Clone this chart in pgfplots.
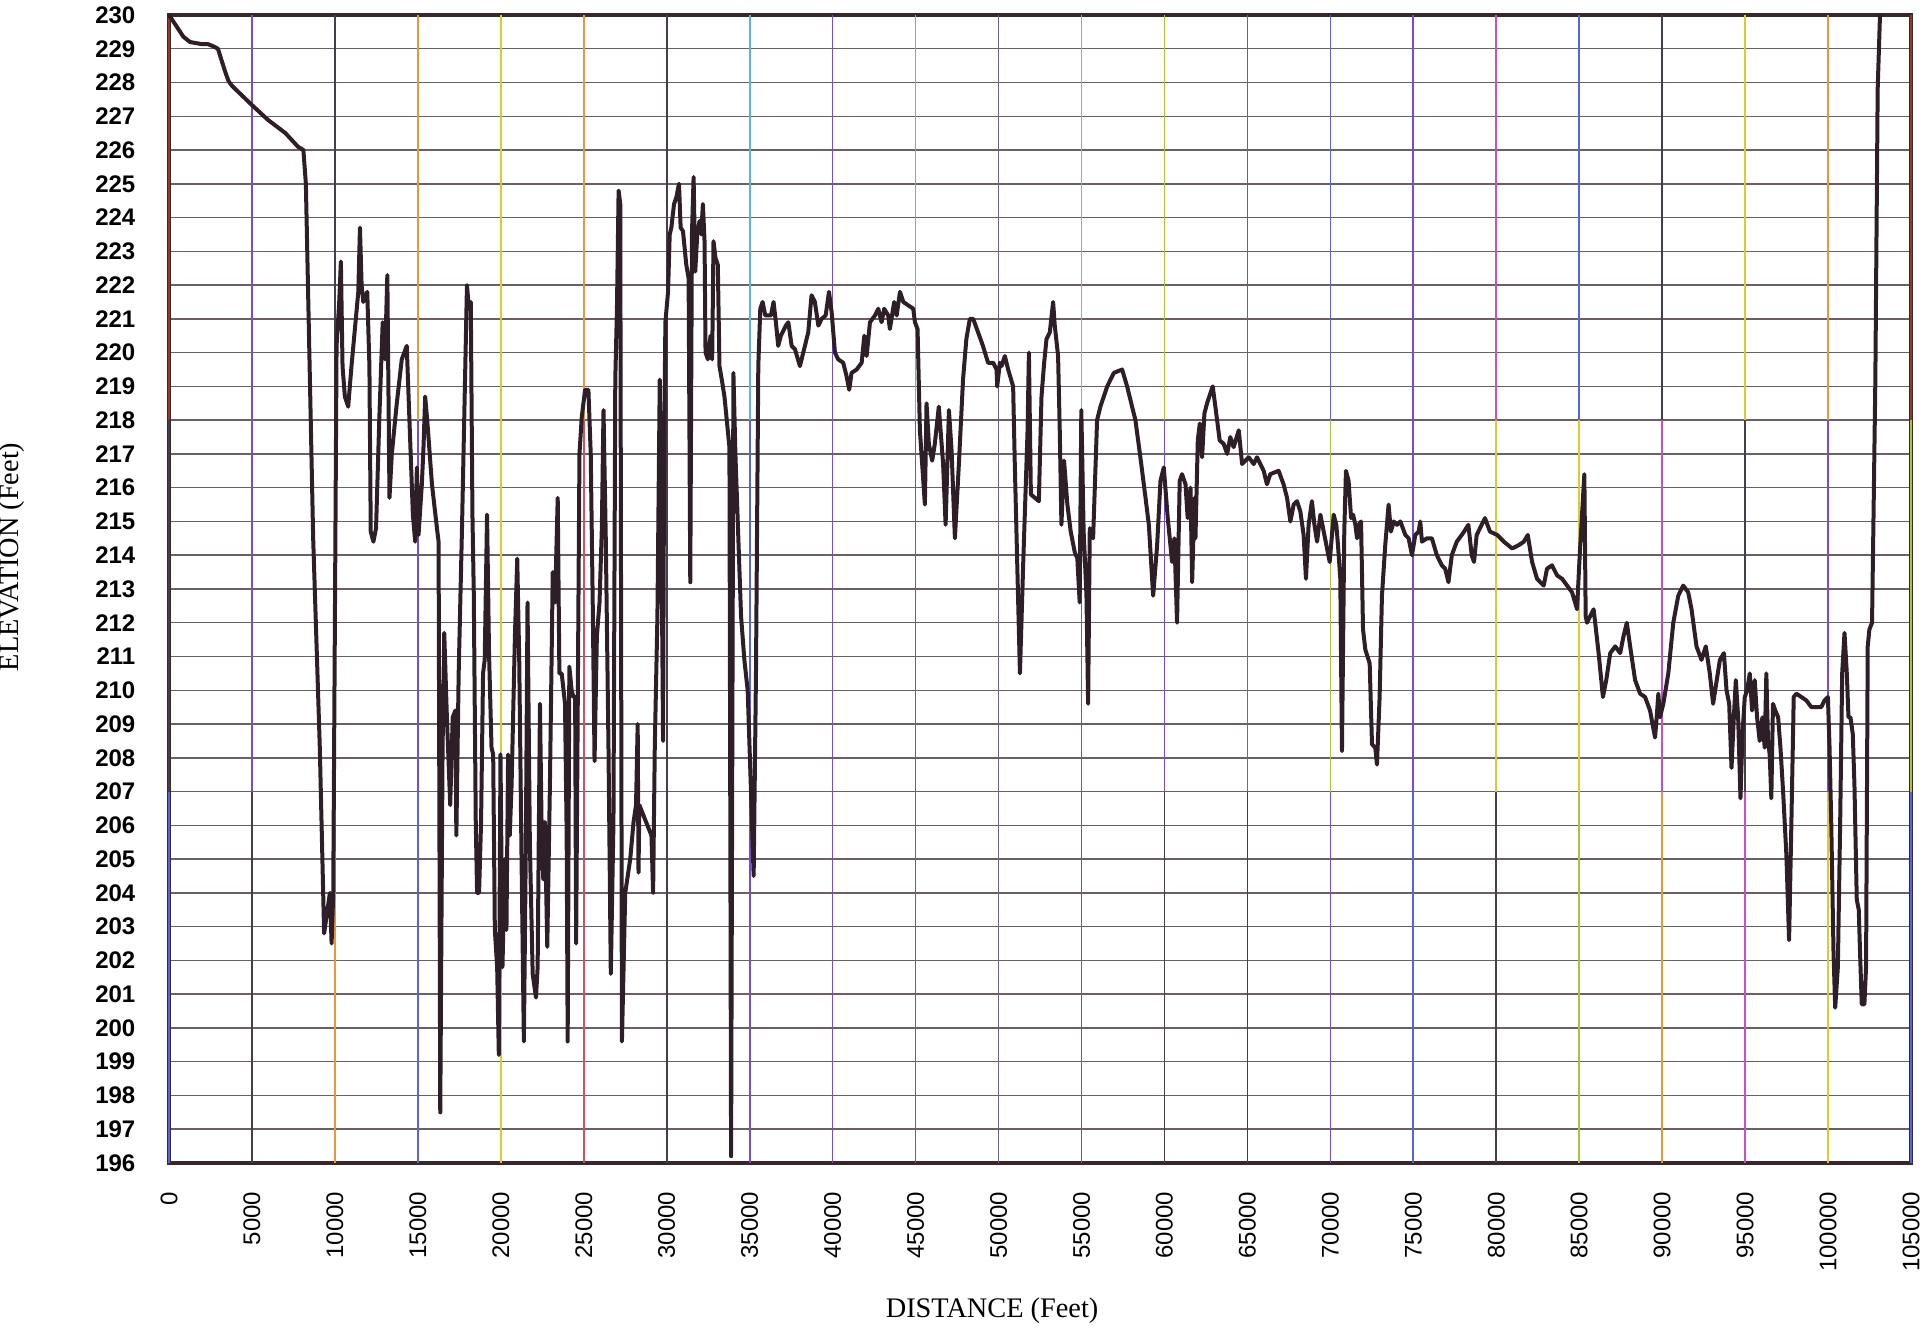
\documentclass[border=0pt]{standalone}
\usepackage{fontspec}
\setmainfont{Liberation Serif}
\setsansfont{Liberation Sans}
\usepackage{pgfplots}
\pgfplotsset{compat=1.18}

\definecolor{prof}{RGB}{45,30,40}
\definecolor{frame}{RGB}{55,40,45}
\definecolor{hgrid}{RGB}{105,95,100}
\definecolor{gv}{RGB}{120,75,215}
\definecolor{gd}{RGB}{70,62,75}
\definecolor{go}{RGB}{235,150,55}
\definecolor{gy}{RGB}{225,200,45}
\definecolor{gr}{RGB}{220,75,95}
\definecolor{gc}{RGB}{90,180,225}
\definecolor{gb}{RGB}{85,100,230}
\definecolor{gm}{RGB}{205,75,205}
\definecolor{gg}{RGB}{170,195,60}
\definecolor{gs}{RGB}{110,95,140}
\definecolor{gn}{RGB}{150,55,40}

% vertical grid line at #1, top / middle / bottom colour
\newcommand{\vg}[4]{%
  \addplot[forget plot, line width=0.5pt, #2] coordinates {(#1,230) (#1,218)};
  \addplot[forget plot, line width=0.5pt, #3] coordinates {(#1,218) (#1,207)};
  \addplot[forget plot, line width=0.5pt, #4] coordinates {(#1,207) (#1,196)};
}

\begin{document}
\begin{tikzpicture}
\begin{axis}[
  at={(0,0)}, anchor=south west,
  scale only axis, width=522.6pt, height=344.4pt,
  xmin=0, xmax=105000, ymin=196, ymax=230,
  clip=false,
  axis line style={frame, line width=1.1pt},
  scaled x ticks=false,
  xtick={0,5000,...,105000},
  xticklabels={0,5000,10000,15000,20000,25000,30000,35000,40000,45000,50000,55000,60000,65000,70000,75000,80000,85000,90000,95000,100000,105000},
  ytick={196,...,230},
  major tick length=0pt,
  ymajorgrids, grid style={hgrid, line width=0.45pt},
  xticklabel shift=8.4pt, yticklabel shift=9.9pt,
  xticklabel style={rotate=90, anchor=east, inner sep=0pt, font=\fontsize{7.2}{8}\sffamily},
  yticklabel style={anchor=east, inner sep=0pt, font=\fontsize{7.2}{8}\sffamily\bfseries},
  /pgf/number format/assume math mode=true,
  xlabel={DISTANCE (Feet)}, ylabel={ELEVATION (Feet)},
  xlabel style={at={(axis description cs:0.4725,-0.1289)}, anchor=center, font=\fontsize{8.5}{10}\selectfont},
  ylabel style={at={(axis description cs:-0.0901,0.528)}, anchor=center, rotate=0, font=\fontsize{8.5}{10}\selectfont},
]
\vg{5000}{gv}{gv}{gd}
\vg{10000}{gd}{gd}{go}
\vg{15000}{go}{gv}{gb}
\vg{20000}{gy}{gy}{gy}
\vg{25000}{go}{gr}{gr}
\vg{30000}{gd}{gd}{gd}
\vg{35000}{gc}{gb}{gv}
\vg{40000}{gv}{gv}{gv}
\vg{45000}{gc}{gv}{gv}
\vg{50000}{gs}{gs}{gs}
\vg{55000}{go}{gs}{gv}
\vg{60000}{gg}{gv}{gd}
\vg{65000}{gs}{gb}{gd}
\vg{70000}{gb}{gg}{gv}
\vg{75000}{gv}{gv}{gb}
\vg{80000}{gm}{gy}{gd}
\vg{85000}{gb}{gy}{gg}
\vg{90000}{gd}{gm}{go}
\vg{95000}{gy}{gd}{gm}
\vg{100000}{go}{gv}{gy}
\vg{0}{gn}{gd}{gb}
\vg{105000}{gn}{gg}{gb}

\addplot[prof, line width=1.2pt, line join=round, mark=none] coordinates {
(0,230) (460,229.66) (860,229.36) (1260,229.2) (1930,229.14) (2330,229.14)
(2680,229.07) (2950,229.0) (3140,228.7) (3400,228.3) (3590,228.04) (3800,227.9)
(4960,227.35) (5950,226.9) (7020,226.5) (7770,226.1) (8100,226.0)
(8250,225.0) (8690,214.5) (9090,208.3) (9350,202.8) (9700,204.0) (9800,202.5)
(9900,204.0) (10100,220.2) (10260,221.5) (10360,222.7) (10460,219.6) (10600,218.7)
(10800,218.4) (11000,219.6) (11410,221.8) (11510,223.7) (11610,222.0) (11710,221.5)
(11950,221.8) (12080,219.6) (12160,214.7) (12320,214.4) (12480,214.8) (12680,218.1)
(12880,220.9) (13020,219.8) (13160,222.3) (13290,215.7) (13430,217.0) (13730,218.5)
(14030,219.8) (14330,220.2) (14500,217.9) (14700,215.2) (14840,214.4) (14940,216.6)
(15040,214.6) (15240,216.1) (15340,217.2) (15440,218.7) (15580,217.9) (15850,216.1)
(16150,214.8) (16250,214.4) (16350,197.5) (16490,208.3) (16590,211.7) (16750,209.2)
(16950,206.6) (17100,209.2) (17260,209.4) (17320,205.7) (17460,210.5) (17660,214.8)
(17860,219.6) (17960,222.0) (18080,221.3) (18190,221.5) (18290,215.2) (18370,212.9)
(18490,206.1) (18570,204.0) (18690,204.0) (18810,206.1) (18930,210.5) (19030,210.9)
(19170,215.2) (19290,211.1) (19440,208.3) (19540,208.1) (19640,202.9) (19780,201.8)
(19880,199.2) (19980,208.1) (20100,201.8) (20240,205.0) (20340,202.9) (20440,208.1)
(20540,205.7) (20650,207.2) (20850,211.6) (20990,213.9) (21110,210.9) (21250,205.0)
(21390,199.6) (21510,205.5) (21610,212.6) (21750,205.5) (21920,201.6) (22120,200.9)
(22220,201.8) (22360,209.6) (22460,205.9) (22560,204.4) (22660,206.1) (22800,202.4)
(22960,207.2) (23130,213.5) (23270,212.6) (23430,215.7) (23530,210.5) (23670,210.5)
(23870,209.6) (23970,205.7) (24030,199.6) (24130,210.7) (24270,210.0) (24380,209.8)
(24480,209.8) (24540,202.5) (24620,208.3) (24740,217.0) (24880,218.1) (25080,218.9)
(25280,218.9) (25420,217.0) (25540,212.6) (25650,207.9) (25790,211.6) (25950,212.6)
(26090,214.8) (26190,218.3) (26330,214.4) (26490,208.3) (26630,201.6) (26790,206.1)
(26900,219.2) (27000,221.3) (27100,224.8) (27200,224.4) (27300,199.6) (27500,204.0)
(27800,205.0) (28000,206.1) (28150,206.6) (28250,209.0) (28300,204.6) (28350,206.6)
(29080,205.7) (29180,204.0) (29280,208.3) (29440,212.2) (29580,219.2) (29680,214.8)
(29780,208.5) (29840,217.0) (29920,220.9) (30080,221.8) (30180,223.5) (30280,223.7)
(30440,224.4) (30580,224.6) (30740,225.0) (30840,223.7) (30980,223.6) (31180,222.6)
(31320,222.2) (31420,213.2) (31520,223.5) (31620,225.2) (31720,222.4) (31840,223.5)
(31980,223.9) (32080,223.5) (32180,224.4) (32280,223.3) (32340,220.0) (32480,219.8)
(32640,220.5) (32740,219.8) (32820,223.3) (32940,222.8) (33080,222.6) (33180,219.6)
(33320,219.2) (33480,218.7) (33640,217.9) (33780,217.2) (33880,196.2) (34020,219.4)
(34140,217.0) (34480,212.2) (34680,210.9) (34880,210.0) (35080,207.0) (35240,204.5)
(35380,210.5) (35520,219.6) (35640,221.3) (35780,221.5) (35940,221.1) (36080,221.1)
(36280,221.1) (36440,221.5) (36580,220.9) (36720,220.2) (36880,220.5) (37180,220.8)
(37330,220.9) (37530,220.2) (37730,220.1) (38030,219.6) (38230,220.0) (38530,220.6)
(38730,221.7) (38930,221.5) (39140,220.8) (39340,221.0) (39580,221.1) (39780,221.8)
(39940,221.2) (40140,220.0) (40340,219.8) (40640,219.7) (40840,219.3) (41000,218.9)
(41140,219.4) (41450,219.5) (41750,219.7) (41910,220.5) (42050,219.9) (42250,220.9)
(42550,221.1) (42750,221.3) (42950,220.9) (43110,221.3) (43350,221.1) (43450,220.7)
(43710,221.5) (43860,221.1) (44060,221.8) (44260,221.5) (44560,221.4) (44860,221.3)
(44960,220.9) (45120,220.7) (45260,217.7) (45560,215.5) (45660,218.5) (45800,217.3)
(46000,216.8) (46160,217.3) (46400,218.4) (46660,216.7) (46810,214.9) (47010,218.3)
(47170,217.1) (47370,214.5) (47610,216.7) (47860,219.2) (48060,220.4) (48270,221.0)
(48470,221.0) (48770,220.6) (49060,220.2) (49370,219.7) (49680,219.7) (49880,219.5)
(49920,219.0) (50080,219.7) (50180,219.6) (50380,219.9) (50580,219.5) (50880,219.0)
(50980,216.7) (51290,210.5) (51490,213.8) (51750,217.7) (51830,220.0) (51950,215.8)
(52190,215.7) (52430,215.6) (52590,218.7) (52750,219.7) (52890,220.4) (53090,220.6)
(53290,221.5) (53390,220.8) (53590,219.9) (53690,217.7) (53790,214.9) (53950,216.8)
(54150,215.5) (54350,214.7) (54590,214.1) (54750,213.9) (54890,212.6) (54990,218.3)
(55130,214.7) (55300,212.8) (55400,209.6) (55500,214.8) (55700,214.5) (55940,218.0)
(56140,218.4) (56550,219.0) (56950,219.4) (57450,219.5) (57750,219.0) (58250,218.0)
(58550,216.9) (58860,215.7) (59060,214.9) (59320,212.8) (59560,214.3) (59760,216.2)
(59960,216.6) (60200,215.1) (60460,213.8) (60600,214.5) (60760,212.0) (60920,216.2)
(61060,216.4) (61270,216.1) (61400,215.1) (61570,216.0) (61670,213.2) (61810,215.7)
(61870,214.5) (62010,217.4) (62130,217.9) (62270,216.9) (62410,218.2) (62570,218.5)
(62770,218.8) (62910,219.0) (63070,218.4) (63330,217.4) (63570,217.3) (63780,217.0)
(63970,217.5) (64170,217.2) (64480,217.7) (64680,216.7) (64880,216.8) (65080,216.9)
(65380,216.7) (65580,216.9) (65780,216.7) (65980,216.5) (66180,216.1) (66380,216.4)
(66880,216.5) (67180,216.1) (67390,215.7) (67590,215.0) (67790,215.5) (67990,215.6)
(68190,215.3) (68390,214.6) (68530,213.3) (68690,214.9) (68890,215.6) (69040,214.9)
(69200,214.4) (69400,215.2) (69600,214.7) (69800,214.2) (69960,213.8) (70200,215.2)
(70360,214.9) (70460,214.3) (70600,213.3) (70700,208.2) (70840,214.7) (70940,216.5)
(71100,216.2) (71250,215.1) (71370,215.2) (71510,214.9) (71610,214.5) (71710,214.9)
(71850,215.0) (71970,211.8) (72110,211.2) (72370,210.8) (72510,208.4) (72710,208.3)
(72810,207.8) (72970,209.8) (73110,212.8) (73310,214.3) (73510,215.5) (73650,214.7)
(73820,215.0) (74020,214.9) (74220,215.0) (74520,214.6) (74720,214.5) (74920,214.0)
(75120,214.6) (75320,214.7) (75420,215.0) (75520,214.4) (75820,214.5) (76120,214.5)
(76420,214.0) (76720,213.7) (76920,213.6) (77120,213.2) (77320,214.0) (77620,214.4)
(77920,214.6) (78060,214.7) (78320,214.9) (78520,214.0) (78660,213.8) (78820,214.6)
(79020,214.8) (79320,215.1) (79620,214.7) (80060,214.6) (80460,214.4) (80960,214.2)
(81360,214.3) (81660,214.4) (81900,214.6) (82160,213.8) (82460,213.3) (82860,213.1)
(83060,213.6) (83360,213.7) (83670,213.4) (83970,213.3) (84270,213.1) (84570,212.9)
(84870,212.4) (85030,214.0) (85170,215.2) (85310,216.4) (85390,212.2) (85470,212.0)
(85670,212.2) (85870,212.4) (86170,211.1) (86430,209.8) (86630,210.3) (86870,211.1)
(87170,211.3) (87470,211.1) (87670,211.6) (87870,212.0) (88070,211.3) (88370,210.3)
(88670,209.9) (88970,209.8) (89270,209.4) (89570,208.6) (89670,209.2) (89770,209.9)
(89870,209.2) (90070,209.6) (90370,210.5) (90670,212.0) (90970,212.8) (91270,213.1)
(91570,212.9) (91770,212.4) (92070,211.3) (92370,210.9) (92630,211.3) (92870,210.5)
(93070,209.6) (93480,210.9) (93720,211.1) (93880,210.0) (94040,209.6) (94180,207.7)
(94320,209.2) (94440,210.3) (94580,209.2) (94720,206.8) (94840,208.7) (94980,209.8)
(95120,210.0) (95280,210.5) (95420,209.4) (95580,210.3) (95720,209.2) (95880,208.5)
(96040,209.2) (96180,208.3) (96280,210.5) (96380,208.5) (96480,208.1) (96580,206.8)
(96680,209.6) (96820,209.4) (96990,209.2) (97130,208.3) (97290,207.0) (97490,205.1)
(97650,202.6) (97790,206.1) (97930,209.8) (98090,209.9) (98390,209.8) (98690,209.7)
(98990,209.5) (99290,209.5) (99590,209.5) (99790,209.7) (99990,209.8) (100090,208.3)
(100190,206.1) (100330,202.2) (100430,200.6) (100590,201.8) (100730,206.1) (100850,210.5)
(100990,211.7) (101130,210.5) (101230,209.2) (101350,209.2) (101490,208.7) (101590,207.2)
(101730,203.8) (101850,203.5) (101930,202.2) (102030,200.7) (102190,200.7) (102290,201.8)
(102390,211.3) (102490,211.8) (102650,212.0) (102730,214.8) (102850,219.2) (102990,227.8)
(103130,230.0)
};
\end{axis}
\pgfresetboundingbox
\path[use as bounding box] (-50.7pt,-51.6pt) rectangle (526.8pt,348.9pt);
\end{tikzpicture}
\end{document}
